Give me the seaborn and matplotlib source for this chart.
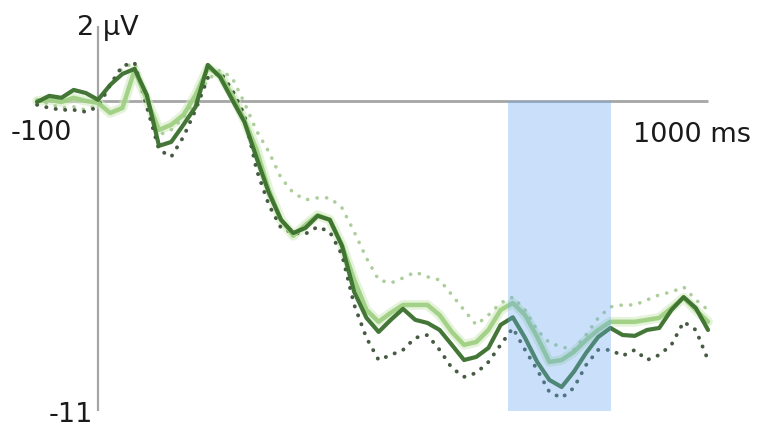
import matplotlib
matplotlib.use("Agg")
import matplotlib.pyplot as plt
import numpy as np
import pandas as pd
import seaborn as sns

# Time axis (ms) and grand-average ERP amplitudes (µV) for four conditions
time_ms = list(range(-100, 1001, 20))

dark_solid = [-0.04, 0.18, 0.11, 0.39, 0.28, 0.04, 0.57, 0.96, 1.14, 0.21,
              -1.60, -1.46, -0.85, -0.21, 1.28, 0.85, 0.04, -0.75, -2.03, -3.27,
              -4.23, -4.70, -4.52, -4.09, -4.23, -5.16, -6.80, -7.72, -8.22, -7.79,
              -7.40, -7.79, -7.90, -8.15, -8.68, -9.22, -9.11, -8.79, -7.97, -7.70,
              -8.43, -9.29, -9.93, -10.18, -9.64, -8.97, -8.40, -8.08, -8.33, -8.36,
              -8.15, -8.08, -7.44, -6.98, -7.37, -8.15]

dark_dotted = [-0.14, -0.25, -0.32, -0.32, -0.39, -0.21, 0.57, 1.25, 1.35, -0.21,
               -1.74, -1.99, -1.28, -0.32, 0.82, 1.03, 0.39, -0.50, -2.46, -3.70,
               -4.52, -4.70, -4.73, -4.48, -4.66, -5.48, -7.26, -8.43, -9.22, -9.04,
               -8.86, -8.43, -8.33, -8.86, -9.50, -9.82, -9.68, -9.29, -8.68, -8.08,
               -8.86, -9.57, -10.36, -10.57, -10.21, -9.40, -8.86, -8.86, -9.07, -8.86,
               -9.22, -9.04, -8.68, -7.86, -8.15, -9.22]

light_solid = [0.00, 0.04, -0.04, 0.11, 0.00, -0.07, -0.43, -0.25, 1.10, 0.04,
               -1.03, -0.85, -0.50, 0.21, 1.17, 0.93, 0.21, -0.68, -1.74, -3.17,
               -4.23, -4.80, -4.41, -4.06, -4.23, -5.12, -6.37, -7.44, -7.86, -7.54,
               -7.26, -7.26, -7.26, -7.62, -8.22, -8.68, -8.58, -8.15, -7.44, -7.19,
               -7.62, -8.40, -9.29, -9.22, -8.93, -8.51, -8.15, -7.86, -7.86, -7.86,
               -7.79, -7.72, -7.37, -7.01, -7.44, -7.86]

light_dotted = [0.04, -0.11, -0.25, -0.21, -0.32, -0.14, 0.57, 1.17, 1.35, 0.04,
                -1.21, -1.03, -0.60, 0.04, 0.75, 1.10, 0.82, -0.07, -1.07, -1.81,
                -2.74, -3.27, -3.52, -3.45, -3.45, -3.81, -4.66, -5.59, -6.37, -6.48,
                -6.30, -6.09, -6.26, -6.37, -6.90, -7.44, -7.97, -7.62, -7.19, -6.98,
                -7.44, -8.15, -8.61, -8.75, -8.86, -8.33, -7.72, -7.33, -7.26, -7.26,
                -7.08, -6.90, -6.80, -6.62, -7.08, -7.44]

# Analysis window (ms)
window_ms = [672, 841]

sns.set_style("white")
plt.rcParams["font.family"] = ["DejaVu Sans"]

fig = plt.figure(figsize=(7.6, 4.3), dpi=100)
ax = fig.add_axes([0, 0, 1, 1])
ax.set_xlim(-160.7, 1085.2)
ax.set_ylim(-11.71, 3.59)

# Axes drawn through the origin
ax.plot([-100, 1000], [0, 0], color="#a6a6a6", lw=2.0, zorder=1, solid_capstyle="butt")
ax.plot([0, 0], [-11.05, 2.65], color="#a6a6a6", lw=1.6, zorder=1, solid_capstyle="butt")

df = pd.DataFrame({
    "time": time_ms * 4,
    "amp": dark_solid + dark_dotted + light_solid + light_dotted,
    "cond": (["dark_solid"] * len(time_ms) + ["dark_dotted"] * len(time_ms)
             + ["light_solid"] * len(time_ms) + ["light_dotted"] * len(time_ms)),
})

# Soft halo behind the light solid trace
sns.lineplot(data=df[df["cond"] == "light_solid"], x="time", y="amp", ax=ax,
             color="#cfeabb", linewidth=7, alpha=0.55, estimator=None,
             legend=False, zorder=2)

styles = {
    "light_dotted": dict(color="#a8cc96", lw=2.6, ls=(0, (0.05, 2.6)), alpha=0.95),
    "dark_dotted": dict(color="#3c5238", lw=2.8, ls=(0, (0.05, 2.4)), alpha=0.95),
    "light_solid": dict(color="#9fd083", lw=3.2, ls="-", alpha=0.95),
    "dark_solid": dict(color="#3a702c", lw=3.0, ls="-", alpha=0.95),
}

for name, st in styles.items():
    sub = df[df["cond"] == name]
    n_before = len(ax.lines)
    sns.lineplot(data=sub, x="time", y="amp", ax=ax, color=st["color"],
                 linewidth=st["lw"], linestyle=st["ls"], alpha=st["alpha"],
                 estimator=None, legend=False, zorder=3)
    for ln in ax.lines[n_before:]:
        ln.set_dash_capstyle("round")
        ln.set_solid_capstyle("round")
        ln.set_solid_joinstyle("round")

# Highlighted time window, translucent over the traces
ax.fill_between(window_ms, -11.05, 0, color="#65a6f1", alpha=0.35, lw=0, zorder=4)

ax.set_xlabel("")
ax.set_ylabel("")
ax.axis("off")

txt = dict(fontsize=19.5, color="#1a1a1a")
ax.text(-34, 2.35, "2 µV", ha="left", va="baseline", **txt)
ax.text(-42, -1.14, "-100", ha="right", va="center", **txt)
ax.text(877, -1.21, "1000 ms", ha="left", va="center", **txt)
ax.text(-9, -11.17, "-11", ha="right", va="center", **txt)

fig.savefig("out.png", dpi=100)
